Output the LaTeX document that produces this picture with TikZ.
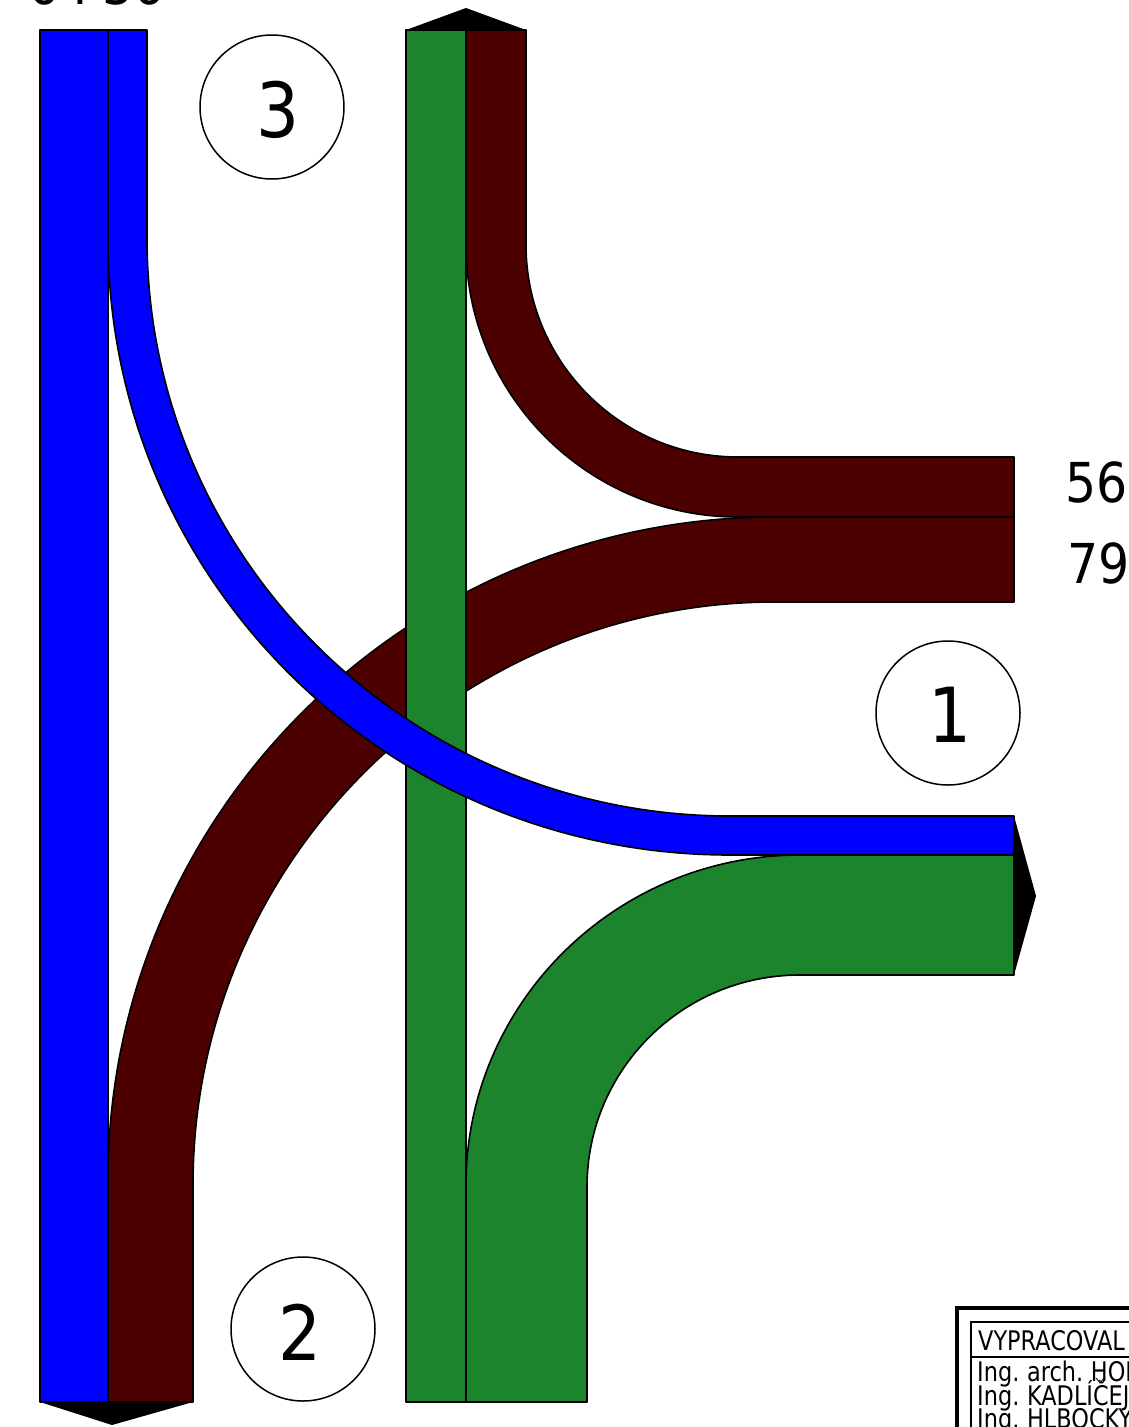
\documentclass[tikz,border=0pt]{standalone}
\usepackage{fontspec}
\setmainfont[FakeStretch=0.83,WordSpace=0.75]{DejaVu Sans}
\newfontfamily\numfont[FakeStretch=0.89]{DejaVu Sans}
\definecolor{laneblue}{HTML}{0000FF}
\definecolor{lanered}{HTML}{4D0000}
\definecolor{lanegreen}{HTML}{1C842C}
\tikzset{
    lane/.style={draw=black, line width=1.6pt, line join=round},
    ring/.style={circle, draw=black, line width=1.5pt, fill=white, minimum size=144pt, inner sep=0pt},
    bignum/.style={font=\numfont\fontsize{76}{76}\selectfont, inner sep=0pt},
    count/.style={font=\numfont\fontsize{55}{55}\selectfont, inner sep=0pt, anchor=base west},
    stamp/.style={font=\fontsize{27}{27}\selectfont, inner sep=0pt, anchor=base west}
}
\begin{document}
\begin{tikzpicture}[x=1pt, y=-1pt]
    \useasboundingbox (0,0) rectangle (1129,1427);
    
    % Arrow heads at the ends of the arms
    \fill[black] (406,30) -- (466,8) -- (526,30) -- cycle;
    \fill[black] (40,1402) -- (112,1425) -- (193,1402) -- cycle;
    \fill[black] (1014,816) -- (1036,896) -- (1014,975) -- cycle;
    
    % Red lane from the bottom arm to the right arm
    \draw[lane, fill=lanered] (108,1402) -- (108,1180) .. controls (108,814) and (407,517) .. (775,517)
        -- (1014,517) -- (1014,602) -- (775,602) .. controls (454,602) and (193,864) .. (193,1185) -- (193,1402) -- cycle;
    
    % Red lane from the right arm to the top arm
    \draw[lane, fill=lanered] (466,30) -- (466,245) .. controls (466,395) and (588,517) .. (738,517)
        -- (1014,517) -- (1014,457) -- (738,457) .. controls (621,457) and (526,362) .. (526,245) -- (526,30) -- cycle;
    
    % Green lane turning right
    \draw[lane, fill=lanegreen] (466,1402) -- (466,1185) .. controls (466,1003) and (616,855) .. (800,855)
        -- (1014,855) -- (1014,975) -- (800,975) .. controls (682,975) and (587,1070) .. (587,1187) -- (587,1402) -- cycle;
    
    % Green lane going straight
    \draw[lane, fill=lanegreen] (406,30) rectangle (466,1402);
    
    % Blue lane going straight
    \draw[lane, fill=laneblue] (40,30) rectangle (108,1402);
    
    % Blue lane crossing everything
    \draw[lane, fill=laneblue] (108,30) -- (108,238) .. controls (108,579) and (386,855) .. (730,855)
        -- (1014,855) -- (1014,816) -- (730,816) .. controls (408,816) and (147,557) .. (147,238) -- (147,30) -- cycle;
    
    % Arm numbers
    \node[ring] (ring3) at (272,107) {};
    \node[ring] (ring1) at (948,713) {};
    \node[ring] (ring2) at (303,1329) {};
    \node[bignum] (num3) at (278,110) {3};
    \node[bignum] (num1) at (950,715) {1};
    \node[bignum] (num2) at (300,1332) {2};
    
    % Traffic counts
    \node[count] (cnt56) at (1065,502) {56};
    \node[count] (cnt79) at (1067,583) {79};
    \node[count] (cnt64) at (28,4) {64};
    \node[count] (cnt36) at (102,4) {36};
    
    % Title block
    \draw[line width=4pt] (957,1427) -- (957,1307.5) -- (1129,1307.5);
    \draw[line width=1.4pt] (971,1427) -- (971,1322) -- (1129,1322);
    \draw[line width=1.4pt] (971,1357) -- (1129,1357);
    \node[stamp] (stamp0) at (978,1350) {VYPRACOVAL};
    \node[stamp] (stamp1) at (977,1381) {Ing. arch. HOL};
    \node[stamp] (stamp2) at (977,1405) {Ing. KADLÍČEJ};
    \node[stamp] (stamp3) at (977,1428) {Ing. HLBOCKY};
    
    % Small tick under the name
    \draw[line width=0.8pt] (1096,1378) -- (1100,1383) -- (1104,1378);
\end{tikzpicture}
\end{document}
